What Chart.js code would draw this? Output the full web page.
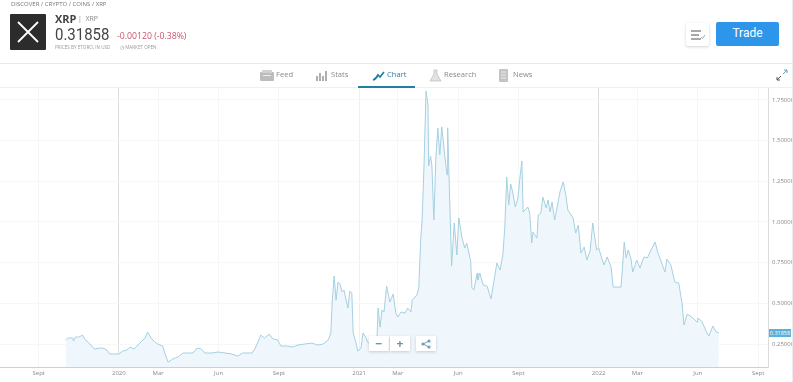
<!DOCTYPE html>
<html>
<head>
<meta charset="utf-8">
<script src="https://cdn.jsdelivr.net/npm/chart.js@4/dist/chart.umd.min.js"></script>
<style>
html,body{margin:0;padding:0;background:#fff;overflow:hidden}
body{width:793px;height:382px;position:relative;font-family:"Open Sans",sans-serif;color:#555}
#c{position:absolute;left:0;top:0}
.t{position:absolute;white-space:nowrap;line-height:1}
.rule{position:absolute;left:0;width:793px;height:1px;background:#e9e9e9}
.ic{position:absolute}
.tab{position:absolute;top:69px;font-size:7.6px;color:#8a8a8a;line-height:10px;white-space:nowrap}
.btn{position:absolute;background:#fff;box-shadow:0 1px 3px rgba(0,0,0,.18);text-align:center;color:#6f8f9f}
</style>
</head>
<body>
<canvas id="c" width="793" height="382"></canvas>

<div class="t" style="left:11px;top:1px;font-size:6px;color:#777">DISCOVER / CRYPTO / COINS / XRP</div>
<svg class="ic" style="left:10px;top:14px" width="36" height="36"><rect width="36" height="36" rx="1" fill="#2c2c2c"/><path d="M8 8 Q17 17 28 28 M28 8 Q19 17 8 28" stroke="#fff" stroke-width="1.8" fill="none"/></svg>
<div class="t" style="left:55px;top:13px;font-size:11px;font-weight:700;color:#444">XRP</div>
<div class="t" style="left:78px;top:15px;font-size:7px;color:#888">|&nbsp; XRP</div>
<div class="t" style="left:55px;top:26px;font-size:17px;color:#444;font-family:Roboto,sans-serif;transform:scaleX(.88);transform-origin:left">0.31858</div>
<div class="t" style="left:117px;top:32px;font-size:8.7px;color:#c8566c">-0.00120 (-0.38%)</div>
<div class="t" style="left:55px;top:45px;font-size:4.6px;color:#999">PRICES BY ETORO, IN USD</div>
<div class="t" style="left:120px;top:45px;font-size:4.6px;color:#999">◷ MARKET OPEN</div>

<div class="btn" style="left:686px;top:23px;width:23px;height:23px;border-radius:2px"></div>
<svg class="ic" style="left:690px;top:29px" width="16" height="12"><path d="M1 2h10M1 6h8M1 10h10" stroke="#555" stroke-width="1.2"/><path d="M11 8l1.5 1.5L15 6" stroke="#9ab" fill="none"/></svg>
<div class="t" style="left:716px;top:22px;width:63px;height:24px;background:#2d96ea;border-radius:2px;color:#fff;font-size:12px;line-height:23px;text-align:center;font-family:Roboto,sans-serif">Trade</div>

<div class="rule" style="top:63px"></div>
<div class="rule" style="top:87px;background:#efefef"></div>

<svg class="ic" style="left:260px;top:70px" width="14" height="11"><rect x="0" y="2" width="14" height="9" rx="1" fill="#bcbcbc"/><rect x="2" y="0" width="10" height="3" fill="#d2d2d2"/><rect x="3" y="5" width="8" height="1" fill="#eee"/></svg>
<div class="tab" style="left:276px">Feed</div>
<svg class="ic" style="left:316px;top:70px" width="12" height="11"><path d="M1 11V6M4 11V3M7 11V6M10 11V1" stroke="#9a9a9a" stroke-width="1.6"/></svg>
<div class="tab" style="left:331px">Stats</div>
<svg class="ic" style="left:372px;top:70px" width="13" height="11"><path d="M1 10Q4 9 6 5L8 7L12 2" stroke="#1f7f9f" stroke-width="1.7" fill="none"/></svg>
<div class="tab" style="left:387px;color:#2a7f9c">Chart</div>
<div class="ic" style="left:358px;top:86px;width:57px;height:2px;background:#23809f"></div>
<svg class="ic" style="left:429px;top:69px" width="13" height="13"><path d="M5 1h3v4l4 7H1l4-7z" fill="#e2e2e2" stroke="#bbb" stroke-width=".7"/></svg>
<div class="tab" style="left:444px">Research</div>
<svg class="ic" style="left:498px;top:69px" width="12" height="13"><rect x="1" y="0" width="9" height="13" rx="1" fill="#c4c4c4"/><path d="M3 3h5M3 6h5M3 9h5" stroke="#ececec"/></svg>
<div class="tab" style="left:513px">News</div>
<svg class="ic" style="left:776px;top:69px" width="12" height="12"><path d="M7 5L11 1M11 1H8M11 1V4" stroke="#6d9fb5" fill="none"/><path d="M5 7L1 11M1 11H4M1 11V8" stroke="#555" fill="none"/></svg>

<div class="btn" style="left:369px;top:336px;width:20px;height:15px;font-size:12px;line-height:15px;font-weight:700">−</div>
<div class="btn" style="left:390px;top:336px;width:20px;height:15px;font-size:12px;line-height:15px;font-weight:700">+</div>
<div class="btn" style="left:416px;top:336px;width:20px;height:15px"></div>
<svg class="ic" style="left:421px;top:339px" width="10" height="10"><path d="M8 2L2 5L8 8" stroke="#6f9fb5" fill="none"/><circle cx="8" cy="2" r="1.6" fill="#6f9fb5"/><circle cx="2" cy="5" r="1.6" fill="#6f9fb5"/><circle cx="8" cy="8" r="1.6" fill="#6f9fb5"/></svg>

<div class="t" style="left:769px;top:329px;width:22px;height:8px;background:#5db0d8;color:#fff;font-size:5.5px;line-height:8px;text-align:center">0.31858</div>
<div class="ic" style="left:792px;top:0;width:1px;height:382px;background:#ececec"></div>

<script>
// days counted from 1 Jan 2020
const tickDays = [-122, 0, 60, 152, 244, 366, 425, 517, 609, 731, 790, 882, 974];
const tickLabels = ['Sept', '2020', 'Mar', 'Jun', 'Sept', '2021', 'Mar', 'Jun', 'Sept', '2022', 'Mar', 'Jun', 'Sept'];
const priceTicks = [0.25, 0.5, 0.75, 1, 1.25, 1.5, 1.75];

const days = [
  -81,-78,-70,-69,-66,-61,-55,-52,-44,-37,-30,-24,-18,-14,-6,0,6,12,17,23,
  35,40,44,49,55,59,67,70,75,82,90,98,105,113,119,126,131,142,151,162,
  172,181,189,203,207,212,216,222,229,235,242,247,256,265,273,283,294,303,311,319,
  323,325,328,331,334,337,340,343,349,352,355,357,361,364,369,372,376,379,386,393,
  395,398,401,404,408,413,418,422,425,430,436,440,445,447,454,457,460,462,465,468,
  471,472,475,477,480,483,486,489,492,497,500,501,504,507,511,515,518,523,527,530,
  536,538,541,546,547,550,555,561,567,573,576,581,585,588,591,594,597,600,604,608,
  611,614,616,623,626,629,631,637,639,643,646,651,654,657,660,664,667,672,677,681,
  684,692,696,700,704,709,713,718,722,725,728,731,739,744,750,753,765,767,770,773,
  776,780,783,789,794,800,805,811,817,821,832,835,841,847,853,858,861,866,873,881,
  882,888,896,899,905,910,914
];
const prices = [
  .275,.287,.287,.268,.293,.293,.305,.281,.25,.219,.225,.225,.213,.189,.189,.189,.207,.213,.232,.219,
  .268,.287,.324,.287,.262,.25,.238,.195,.139,.158,.17,.195,.195,.195,.225,.219,.195,.195,.201,.195,
  .189,.176,.195,.195,.219,.262,.305,.287,.311,.281,.275,.238,.238,.232,.244,.25,.256,.244,.25,.275,
  .318,.502,.668,.52,.631,.619,.57,.582,.471,.576,.563,.318,.262,.207,.225,.318,.293,.262,.244,.244,
  .471,.354,.459,.447,.606,.508,.557,.44,.416,.447,.44,.471,.447,.52,.551,.594,.901,1.006,1.35,1.805,
  1.719,1.344,1.405,1.344,1.012,1.393,1.578,1.412,1.584,1.393,1.289,1.578,1.147,.729,.994,.797,1.024,.901,.84,.871,
  .76,.594,.582,.686,.643,.686,.613,.606,.527,.674,.748,.705,.797,.963,1.276,1.104,1.233,1.184,1.092,1.147,
  1.27,1.375,1.061,1.092,1.055,.871,.938,.901,1.043,1.055,1.153,1.086,1.135,1.061,1.123,1.012,1.074,1.184,1.246,1.166,
  1.074,1.024,.932,.981,.809,.846,.766,.822,.994,.908,.828,.84,.736,.785,.723,.6,.6,.705,.877,.779,
  .828,.779,.692,.766,.717,.785,.779,.828,.877,.815,.692,.772,.736,.631,.625,.502,.367,.434,.416,.385,
  .41,.391,.318,.299,.361,.324,.31858
];

function gridColor(ctx) {
  const v = ctx.tick && ctx.tick.value;
  if (v === 0 || v === 731) return '#dedede';
  if (v === 366) return '#efefef';
  return '#f6f6f6';
}

new Chart(document.getElementById('c'), {
  type: 'line',
  data: {
    datasets: [{
      data: days.map((d, i) => ({ x: d, y: prices[i] })),
      borderColor: '#a5d0e0',
      backgroundColor: '#f0f7fc',
      borderWidth: 1,
      pointRadius: 0,
      tension: 0,
      fill: 'start'
    }]
  },
  options: {
    responsive: false,
    animation: false,
    layout: { padding: { top: 88 } },
    plugins: { legend: { display: false }, tooltip: { enabled: false } },
    scales: {
      x: {
        type: 'linear',
        min: -181,
        max: 989,
        afterBuildTicks: s => { s.ticks = tickDays.map(v => ({ value: v })); },
        afterFit: s => { s.height = 15; },
        grid: { color: gridColor, drawTicks: false },
        border: { color: '#cfcfcf' },
        ticks: {
          autoSkip: false,
          maxRotation: 0,
          padding: 3,
          color: '#888',
          font: { size: 6, family: 'Open Sans' },
          callback: v => tickLabels[tickDays.indexOf(v)]
        }
      },
      y: {
        position: 'right',
        min: 0.109,
        max: 1.823,
        afterBuildTicks: s => { s.ticks = priceTicks.map(v => ({ value: v })); },
        afterFit: s => { s.width = 25; },
        grid: { color: '#f7f7f7', drawTicks: false },
        border: { color: '#dcdcdc' },
        ticks: {
          padding: 4,
          color: '#888',
          font: { size: 6, family: 'Open Sans' },
          callback: v => v.toFixed(5)
        }
      }
    }
  }
});
</script>
</body>
</html>
